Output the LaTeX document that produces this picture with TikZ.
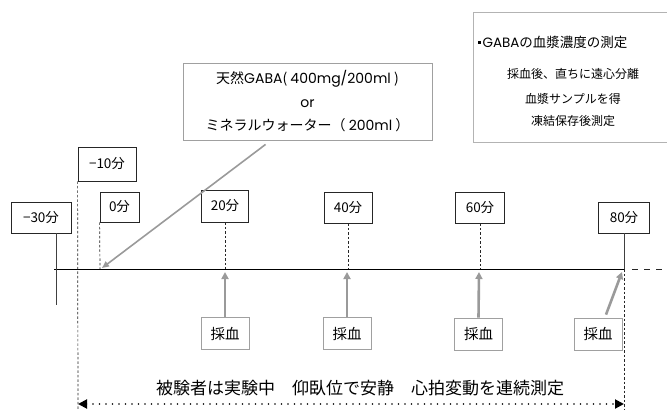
\documentclass[tikz,border=0pt]{standalone}
\usepackage{fontspec}
\setmainfont{Noto Sans CJK JP}
\newfontfamily\latf{Poppins}
\usetikzlibrary{arrows.meta,calc}
\definecolor{arrgray}{HTML}{9A9A9A}
\definecolor{boxgray}{HTML}{A0A0A0}
\newcommand{\Lt}[1]{{\latf #1}}
\begin{document}
\begin{tikzpicture}[x=1pt,y=-1pt,
  tbox/.style={draw=black!85, line width=0.8pt, fill=white, inner sep=0pt, font=\fontsize{13.5}{15}\selectfont},
  sbox/.style={draw=boxgray, line width=0.8pt, fill=white, inner sep=0pt, minimum width=48pt, minimum height=32pt, font=\fontsize{14.5}{16}\selectfont},
  dline/.style={draw=black!85, line width=0.7pt, dash pattern=on 2.5pt off 2pt},
  sline/.style={draw=black!75, line width=1pt},
  garrow/.style={draw=arrgray, line width=2.6pt, -{Triangle[length=7pt,width=7pt]}},
  thinarrow/.style={draw=arrgray, line width=1.6pt, -{Triangle[length=7pt,width=6pt]}}
]
\useasboundingbox (0,0) rectangle (667,412);

% main timeline
\coordinate (L0) at (54,269);
\coordinate (L1) at (625,269);
\coordinate (L2) at (667,269);
\draw[black, line width=0.9pt] (L0) -- (L1);
\draw[black!85, line width=0.9pt, dash pattern=on 6pt off 6pt] (L1) ++(7,0) -- (L2);

% time boxes
\node[tbox, minimum width=60pt, minimum height=31pt] (m30) at (41,217.5) {−30分};
\node[tbox, minimum width=58pt, minimum height=34pt] (m10) at (107,164) {−10分};
\node[tbox, minimum width=39pt, minimum height=30pt] (t0) at (119.5,207) {0分};
\node[tbox, minimum width=47pt, minimum height=32pt] (t20) at (225,206) {20分};
\node[tbox, minimum width=48pt, minimum height=31pt] (t40) at (348,207.5) {40分};
\node[tbox, minimum width=49pt, minimum height=31pt] (t60) at (480,207.5) {60分};
\node[tbox, minimum width=51pt, minimum height=31pt] (t80) at (624,217.5) {80分};

% vertical guides
\coordinate (v30t) at (56,233);
\coordinate (v30) at (56,305);
\draw[sline] (v30t) -- (v30);
\coordinate (v10) at (78,410);
\draw[dline] (m10.south west) -- (v10);
\coordinate (v0) at (100,269);
\draw[dline] (t0.south west) -- (v0);
\coordinate (v20) at (225,269);
\draw[dline] (t20.south) -- (v20);
\coordinate (v40) at (348,269);
\draw[dline] (t40.south) -- (v40);
\coordinate (v60) at (480,269);
\draw[dline] (t60.south) -- (v60);
\coordinate (v80) at (624,269);
\draw[sline] (t80.south) -- (v80);
\coordinate (v80b) at (624,410);
\draw[dline] (v80) -- (v80b);

% GABA box
\node[draw=boxgray, line width=0.8pt, fill=white, minimum width=249pt, minimum height=77pt, inner sep=0pt,
      align=center, font=\fontsize{14}{23.5}\selectfont] (gaba) at (307.5,101.5)
  {天然\Lt{GABA}(\ \Lt{400mg/200ml}\ )\\\Lt{or}\\ミネラルウォーター（\ \Lt{200ml}\ ）};
\coordinate (g0) at (102,268);
\draw[thinarrow] ($(gaba.south west)+(83,4)$) -- (g0);

% blood sampling boxes
\node[sbox] (s20) at (225,333.5) {採血};
\node[sbox] (s40) at (347,333.5) {採血};
\node[sbox] (s60) at (478.5,334) {採血};
\node[sbox] (s80) at (598,334) {採血};
\coordinate (a20) at (225,272);
\coordinate (a40) at (347,272);
\coordinate (a60) at (479,272);
\coordinate (a80) at (622,272);
\draw[garrow] (s20.north) -- (a20);
\draw[garrow] (s40.north) -- (a40);
\draw[garrow] (s60.north) -- (a60);
\draw[garrow] ($(s80.north)+(8,-3)$) -- (a80);

% measurement info box
\node[draw=boxgray!80, line width=0.8pt, minimum width=200pt, minimum height=130pt, inner sep=0pt] (info) at (573,77) {};
\node[anchor=west, inner sep=0pt, font=\fontsize{13.5}{15}\selectfont] (infot) at (478,42)
  {\raisebox{3.5pt}{\rule{2.8pt}{2.8pt}}\hspace{1.5pt}\Lt{GABA}の血漿濃度の測定};
\node[inner sep=0pt, font=\fontsize{12}{13}\selectfont] (info1) at (573,74) {採血後、直ちに遠心分離};
\node[inner sep=0pt, font=\fontsize{12}{13}\selectfont] (info2) at (573,99) {血漿サンプルを得};
\node[inner sep=0pt, font=\fontsize{12}{13}\selectfont] (info3) at (573,121) {凍結保存後測定};

% bottom caption and arrow
\node[inner sep=0pt, font=\fontsize{17}{19}\selectfont] (cap) at (360,388) {被験者は実験中　仰臥位で安静　心拍変動を連続測定};
\coordinate (b0) at (78,404);
\coordinate (b1) at (624,404);
\draw[black, line width=1.9pt, dash pattern=on 0pt off 6.5pt, line cap=round,
      {Triangle[length=9pt,width=9pt,line cap=butt]}-{Triangle[length=9pt,width=9pt,line cap=butt]}] (b0) -- (b1);
\end{tikzpicture}
\end{document}
